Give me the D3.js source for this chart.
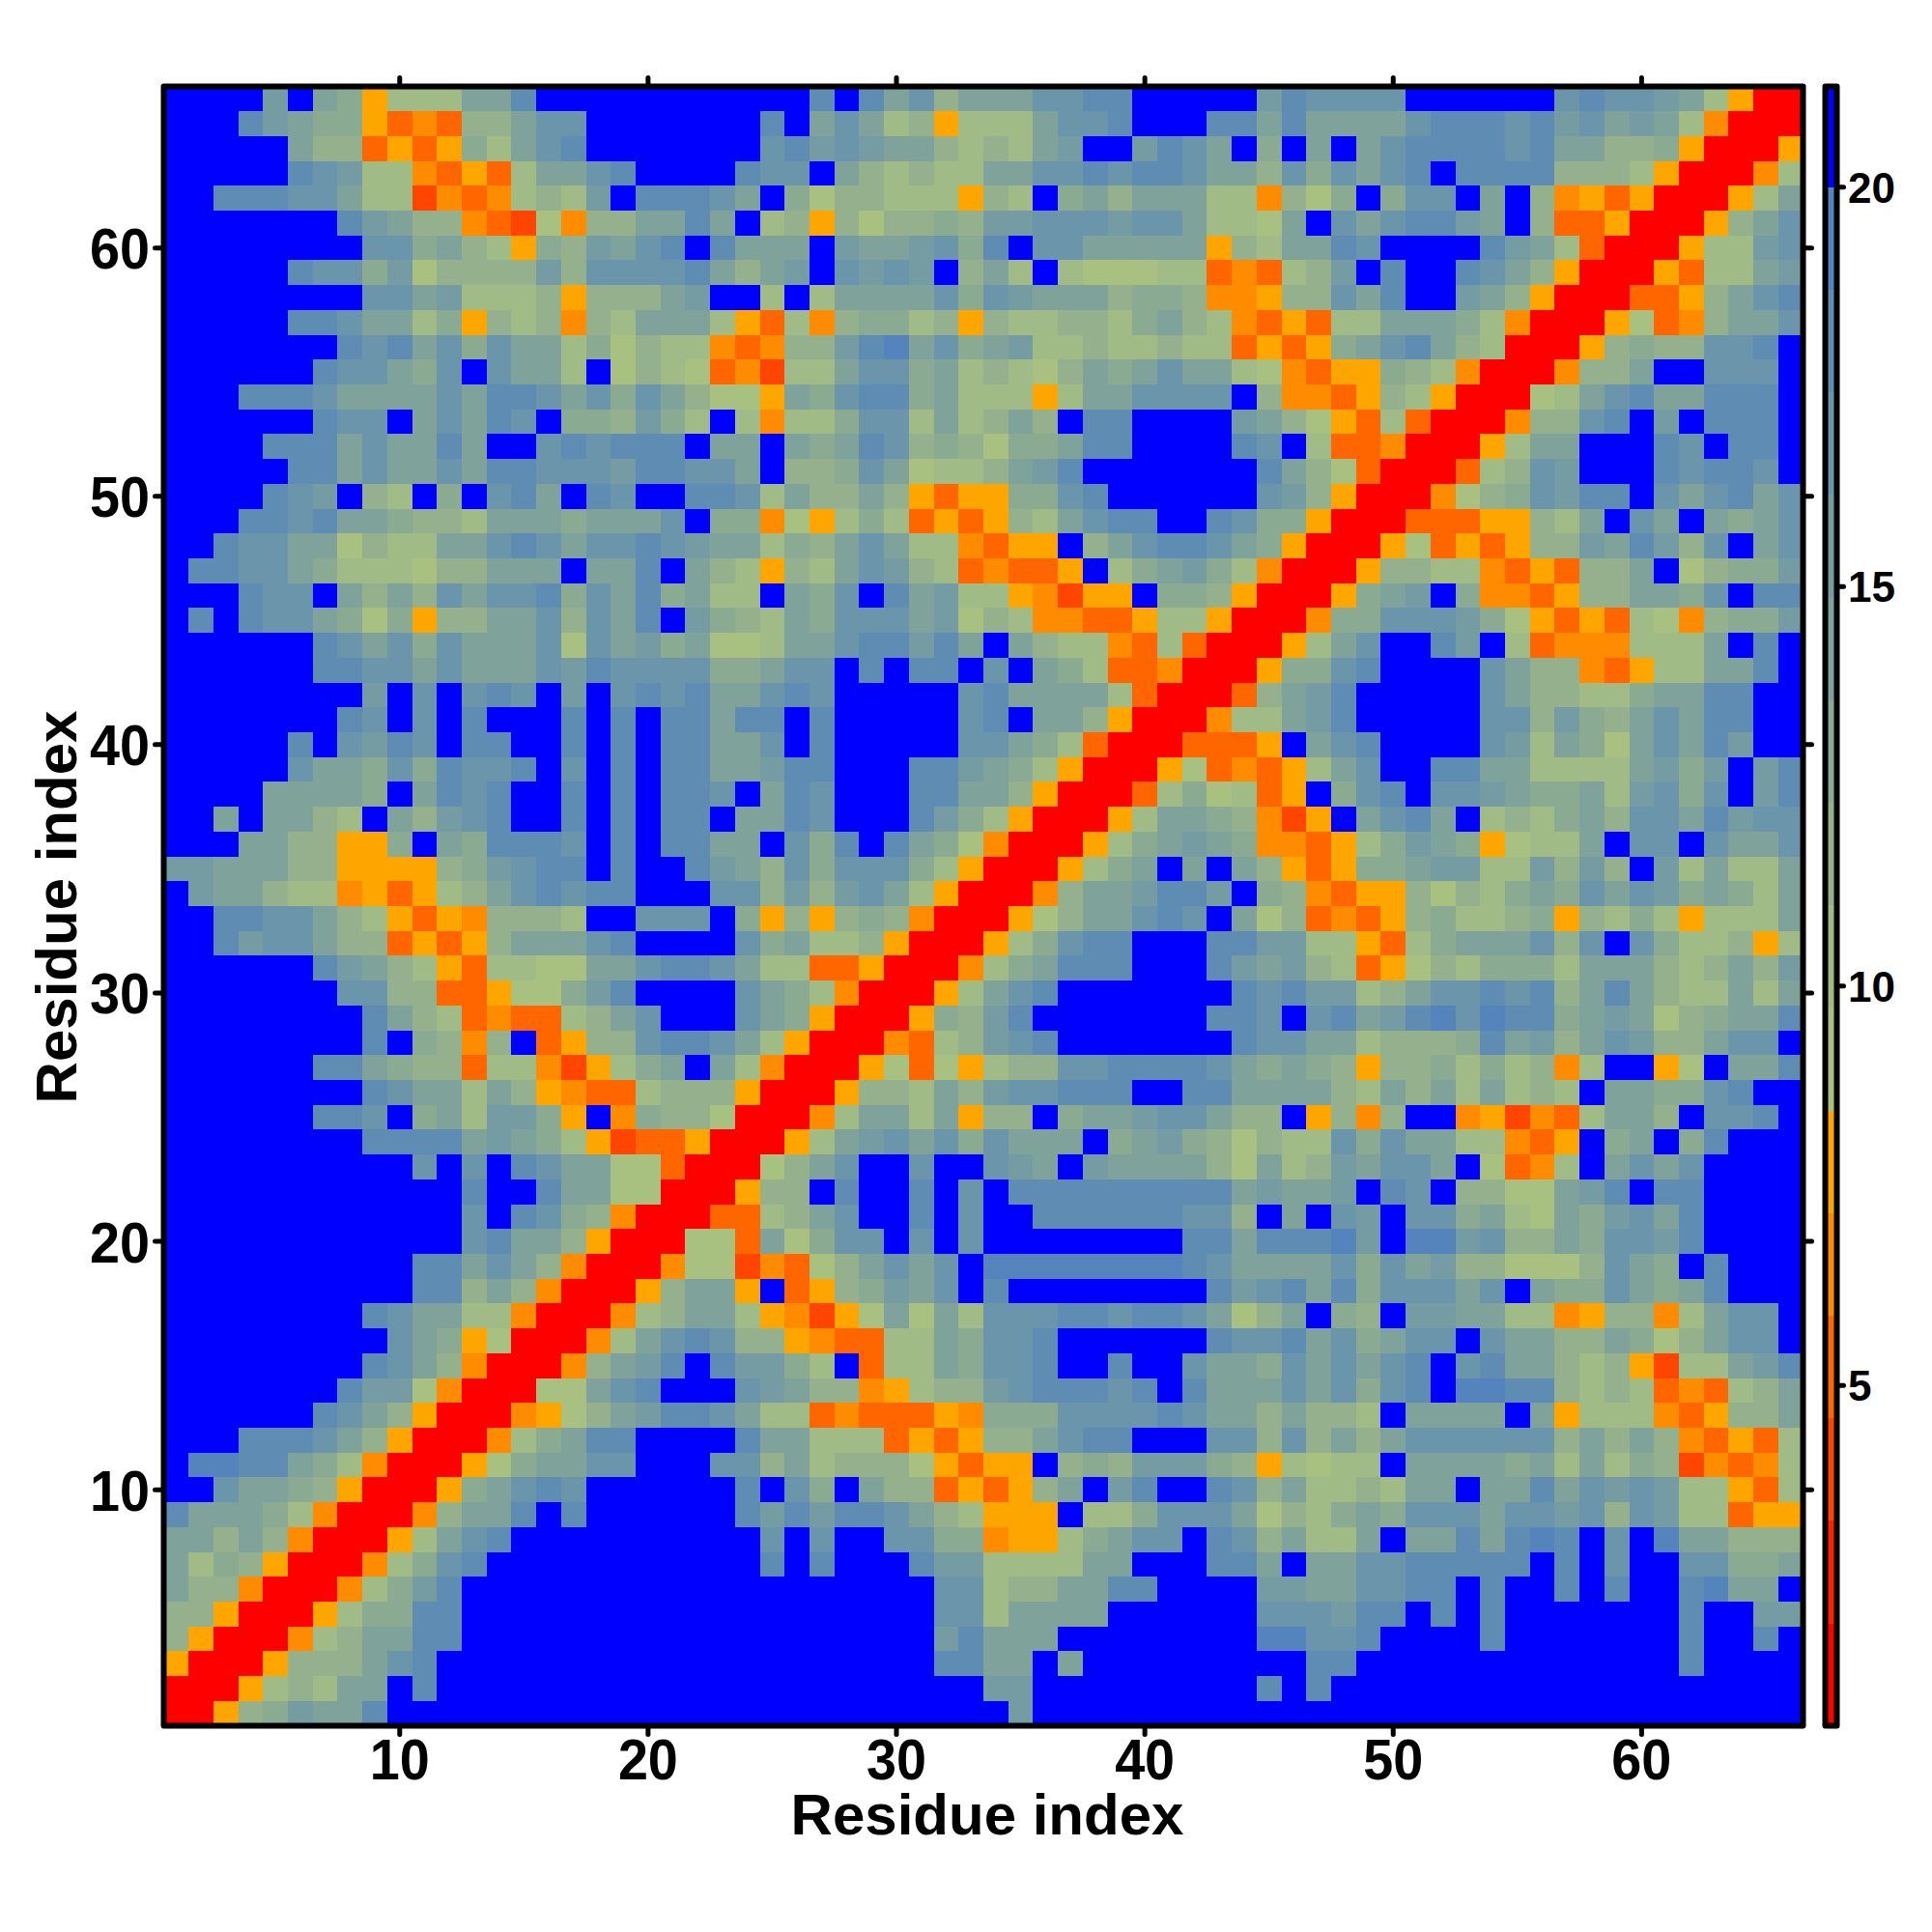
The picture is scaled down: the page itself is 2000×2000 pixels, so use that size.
<!DOCTYPE html>
<html><head><meta charset="utf-8">
<script src="https://cdn.jsdelivr.net/npm/d3@7"></script>
<style>html,body{margin:0;padding:0;background:#fff}svg{display:block}text{font-family:"Liberation Sans",Arial,sans-serif;font-weight:700;fill:#000}</style>
</head><body><div id="chart"></div>
<script>
// Level code per cell, rows 66 (top) to 1 (bottom), ten columns per group.
const matrixRows = [
"BBBBfBedYb bbeehBBBBB BBBBBBhBhe gceeegghhB BBBBfhgggg BBBBBBghgg febYRR",
"BBBhfeddYO MOcceggBBB BBBBhBegeb cYbbbegghB BBhheheeee ghhhghfgef ebMRRR",
"BBBBBeccOY OYdbeghBBB BBBBghfgfe ecbcbefBBf hgeBdBeBeg hhhhgheecc dYRRRY",
"BBBBBhgfbb MOYObeeghB BBBhggBecb cbbeegghgh hgeecgdgeg hBhhhhcccb YRRRMb",
"BBhhhggebb DMOMbcbfBh hhgeBdaccb bbYcbBdece eebbMcadBd ggBeBcMYOY RRRYbe",
"BBBBBBBhfe ccMODaMcce eheBbcYcac cdcffgggfg gebbaeBgeg hhfeBcOOYR RRYceg",
"BBBBBBBBgg decbYdcfeg hBheeeBfee fgdhBggeee eeYcbeehgB BBBhfebORR RYbbfg",
"BBBBBhggdf accccfcggg ghecefBgfg fBcebBbaaa bbOMObcfBh BBhgecYRRR YObbef",
"BBBBBBBBgg efbbbcYccc efBBbBbeee egdgfeeecd dcMMYccgeh BBfecYRRRO OYcegh",
"BBBBBhhgee bdYcbcMcbe eebYObMcdd bcYcbbccbd ecbMOYObbe eedbMRRRYa OMceeg",
"BBBBBBBhgh egdgeebdac bbMOMccfhi egdefbbcbb cbbOYOYdeg hecbRRRYcd ccgghB",
"BBBBBBhgge dgBgeebBac baOMDbbegg debcbacede geebaMOYYd cbMRRRMcce BBgggB",
"BBBhhhgeee egehhgegdg ecaaYedghh debbbYbeeg gggBcMMOYc bYRRRabegh eehhhB",
"BBBBBBhggB egehgBddcf dbBbMbbdgg bebcecBhhB BBBfecaYOb ORRRMccghB fBhhhB",
"BBBBhhhege eheBBghghh hBeeBedehg cdcaddehhB BBBhgBbOOM RRRYbeeBBB hgBhhB",
"BBBBBhhege egehhgggfh hggeBccdge abbcefhBBB BBBBhecaOR RRObcgfBBB hghhgB",
"BBBBhgfBcb BdBgheBhgB Bhhgbeccec YOYYddghBB BBBBgfcYRR RMacdgfhhB gegheg",
"BBBhhgheed ccbeeedeee gBddMaYbdb OYOYcbeghh BBhgddYRRR OOOYYcbeBg eBedeg",
"BBhggeeacb beeghgeggh gfeebdcege bbMOYYBceg hhgedYRRRY aOYOYccfeh fcgBeg",
"Bhhggedbbb acceeeBeeh BecbYcbegf cbOMOOYBbd efdbMRRRYc cbbMOYOcce Bacddf",
"BBBhggBece cgegghdgeh debbBedgBh efbbYMDYYB ddcYRRRYde fBdMMOYcce edgBhh",
"BhBhggedad Ycceegcgeh Bfdcbedggg efacbMMOOY bbYRRRMddg ggfdaYOYOb aMcddf",
"BBBBBBhgeg dgeeegagef deaabeeghh fheBecbbMO bORRRYbegB BhfBbOMMMb bbeBhB",
"BBBBBBhhgg egeeegfhgg ggddeggBhB hhBgBedbOO MRRRYddghB BBBgeccMOY bbeehB",
"BBBBBBBBfB gBghgBfBgh gheeghgBBB BBgheeeebO RRROcefhBB BBBgeccbbd eehhBB",
"BBBBBBBhgB gBhBBBhBhB hhehhBhBBB BBghBeecYR RRMbbefhBB BBBggcfdce gehhBB",
"BBBBBhBgfh gBhhBBhBhB hheegBhBBB BBggedbORR ROOOYBeghB BBBgfbedae gehfBB",
"BBBBBgeedg dhgghBgBhB hheefhhBBB hhfedbYRRR YaOMOYbegB Bhheebbbbe fdfBfh",
"BBBBeeeedB ehghBBhBhB hhgBehgBBB hheecYRRRO bdabOYBdgh Bggfeddebf gdgBfh",
"BBeBeecbBe cfghBBhBhB hhBeehgBBB hfdbYRRRYb eedcMDYBeg heBbcbdecg gehfgg",
"BBBeeccYYd BedhhhgBhB hheeBgdhBh edaMRRRYbd efedMMOYbd fedYabbeBg gBgeeg",
"ffeeeccYYY YcdfghhBhB Bhfecgdggg dbYRRRYbde BeBecYOYdd effbbfcfcB fbebbe",
"BfeecbbMYO YbceghghhB BBggcfcfge bYRRRMceef hhfBdcMOYY cacbdedgeg fdedbe",
"BBhhggecbY OYMcccbBBg ggBdYcYcdc MRRRYaceeg hgBeacOMOY cdbbcdYcbd bYbbbe",
"BBhfggeccO YOYceeeghB BBBgdebbcY RRRYbdghhB BBhhffbbYO bdeeegcgBg dbbcYb",
"BBBBBBhfec bYObbaaeeg hhgebbOOYR RRMbdehhhB BBhfefcbOY acbdddbeee cbcecf",
"BBBBBBBggc cOOYaadfhB BBBgedbMRR RYbeghBBBB BBBhghffbc egghghcehe cbbebe",
"BBBBBBBBhe cbOMOObceg BBBgedYRRR YdcfhBBBBB BBhhgBghef higihhdefe acdeeh",
"BBBBBBBBhB dcMcBOYccg hhgebYRRRM ObcfghBBBB BBBhggeebc ccdhefcegf cceggB",
"BBBBBBhhed ccObbMDYbd eBebMRRRYa OaYbccgghh hhgededcYc cdbdbcMbBB YaBeeh",
"BBBBBBBBhg eebecYMOOb cccYRRRYcc becfgghhhB Bhheeeecbe cebebcbBee ddghBB",
"BBBBBBhhgB debffdYBMd ccaRRRMbee beYccBdeef ggeccBYcMc BBMYDMObee cBgghB",
"BBBBBBBBhh hhefedbYDO OYRRRYbefg egdgeeeBde fdcacbbgdg eebbMOYBde BdhBBB",
"BBBBBBBBBB gBgBhgeeaa ORRRacegBB gBBgfeBfee eecaebcfeg geBaOMbBeg egBBBB",
"BBBBBBBBBB BBhBBheeaa RRRYccBhBB hBgBhhhhhh hhhefeefBh gBccaaefhB hhBBBB",
"BBBBBBBBBB BBgBhgdcMR RROObcegBB hBgBBhhhhh hggcBeBgfB ggdebaedfg ehBBBB",
"BBBBBBBBBB BBgheecYRR RaaOeadggB gBgBBBBBBB BhhehhhifB iifgccedgg fhBBBB",
"BBBBBBBBBB hhegecMRRR MaaDMOaceg egBiiiiiii ihgeeeegdg efccaaacge dBhBBB",
"BBBBBBBBBB hhcecMRRRY ceeYBOYcdf egBhBBBBBB BBhfghehdg ggegBeddge dehBBB",
"BBBBBBBBhg eebbMRRRMb ceebYMDYae aebggghhgh hgeaceBdcB ffeebbMYcc MbeggB",
"BBBBBBBBBg edYaRRRMbe ghgccYMOOb bedgghBBBB BBhgghegde ggBgeecced aceggB",
"BBBBBBBBhg ecMRRRMcef hBhffdbBOb bedgghBBhB Bgeedgegeg hBgheecbcY Dbbefh",
"BBBBBBBhff aMRRRaaegh BBBgfeccMY bccfghhhgh Bheeegegdg hBiihhcbcb OMObce",
"BBBBBBhgec YRRRMYacef hhgebbOMOO OYMdddgggg hgeececcbB eeeeBeYbbb MOYcce",
"BBBhhhgecY RRRMbdehhB BBBheebbbO YOYcceghhB BBggcgcece ggggggcece cMOYOb",
"BiihhedbMR RRYadeeggB BBggcebccc aYOYYBcdcf ffdcYbabbB eeeedebebd cDMOMb",
"BBgeedcYRR RYdeghgBBB BBBhBgdBec cOYOYceBfh BBhgcebbcb eeBeehegfg fbbYOb",
"heeedbMRRR MceehBhBBB BBBhfhfhhg ecbYYYBbbd gggeacbded gggeggfgcg fbbOYY",
"eececMRRRY beghBBBBBB BBBBgBgBBg gddMYYbdeg gBhgcebbeB eehehihBgB ieeccc",
"ebdcYRRRMb dghBBBBBBB BBBBhBhBBB hffbbbbeeB BBhheBeegg hhhhhBhBgB Bggdde",
"eccMRRRMbd fhBBBBBBBB BBBBBBBBBB Bggbcceehh BBBBffeegg hhBhBBhBhB BhieeB",
"ccYRRRYbdd hhBBBBBBBB BBBBBBBBBB BggbeeeeBB BBBBgggfhh BhBhBBBBBB BhBBff",
"cYRRRMbcee hhBBBBBBBB BBBBBBBBBB BfheeeBBBB BBBBiigghB BBBhBBBBBB BhBBhB",
"YRRRYccceg hBBBBBBBBB BBBBBBBBBB BhheeBeBBB BBBBBBhhBB BBBBBBBBBB BhBBBB",
"RRRYbcbeeB hBBBBBBBBB BBBBBBBBBB BBBffBBBBB BBBBhBhBBB BBBBBBBBBB BBBBBB",
"RRYcdfeehB BBBBBBBBBB BBBBBBBBBB BBBBfBBBBB BBBBBBBBBB BBBBBBBBBB BBBBBB"
];
const levelCodes = ["R","r","D","O","M","Y","a","b","c","d","e","f","g","h","i","B"];
const levelValues = [1.4,2.7,3.95,5.2,6.5,7.8,9.1,10.4,11.7,12.9,14.2,15.5,16.8,18.1,19.4,20.6];
const levelBreaks = [0.74,2.02,3.31,4.59,5.87,7.16,8.44,9.73,11.01,12.3,13.58,14.87,16.15,17.43,18.72,20,21.26];
const levelColors = ["#ff0000","#ff2000","#ff4500","#ff6600","#ff8c00","#ffa500","#a8c080","#a0bb86","#94b08c","#8aaa92","#7fa29a","#759ca2","#6b95aa","#5f8cb3","#5583bb","#0000ff"];
const axisTicks = [10,20,30,40,50,60];
const barTicks = [5,10,15,20];
const axisTitle = "Residue index";

const cells = [];
matrixRows.forEach((s, k) => {
  const r = s.replace(/ /g, "");
  if (r.length !== 66) throw new Error("row " + (66 - k) + " has length " + r.length);
  for (let c = 0; c < 66; c++) {
    const i = levelCodes.indexOf(r[c]);
    if (i < 0) throw new Error("bad code " + r[c]);
    cells.push({x: c + 1, y: 66 - k, v: levelValues[i]});
  }
});

const svg = d3.select("#chart").append("svg").attr("width", 2000).attr("height", 2000);
const x = d3.scaleLinear().domain([0.5, 66.5]).range([169.5, 1866.5]);
const y = d3.scaleLinear().domain([0.5, 66.5]).range([1786.5, 89.5]);
const color = d3.scaleThreshold().domain(levelBreaks.slice(1, -1)).range(levelColors);
const barY = d3.scaleLinear().domain([levelBreaks[0], levelBreaks[16]]).range([1786.5, 89.5]);

svg.append("g").attr("shape-rendering", "crispEdges").selectAll("rect").data(cells).join("rect")
  .attr("x", d => x(d.x - 0.5)).attr("y", d => y(d.y + 0.5))
  .attr("width", x(1.5) - x(0.5) + 0.4).attr("height", y(0.5) - y(1.5) + 0.4)
  .attr("fill", d => color(d.v));

function ticks(sel, vals, fn) {
  sel.selectAll("line").data(vals).join("line").each(function(d){ d3.select(this).attr("x1", fn(d)[0]).attr("y1", fn(d)[1]).attr("x2", fn(d)[2]).attr("y2", fn(d)[3]); })
    .attr("stroke", "#000").attr("stroke-width", 5).attr("stroke-linecap", "round");
}
const T = 9;
ticks(svg.append("g"), axisTicks, d => [x(d), 1786.5, x(d), 1786.5 + T]);
ticks(svg.append("g"), axisTicks, d => [x(d), 89.5, x(d), 89.5 - T]);
ticks(svg.append("g"), axisTicks, d => [169.5, y(d), 169.5 - T, y(d)]);
ticks(svg.append("g"), axisTicks, d => [1866.5, y(d), 1866.5 + T, y(d)]);

svg.append("rect").attr("x", 169.5).attr("y", 89.5).attr("width", 1697).attr("height", 1697)
  .attr("fill", "none").attr("stroke", "#000").attr("stroke-width", 6).attr("stroke-linejoin", "round");

const tickFont = 60;
const tickWidth = d => String(d).length * 31;
svg.append("g").selectAll("text").data(axisTicks).join("text")
  .attr("x", d => x(d)).attr("y", 1842).attr("text-anchor", "middle").attr("font-size", tickFont)
  .attr("textLength", tickWidth).attr("lengthAdjust", "spacingAndGlyphs").text(d => d);
svg.append("g").selectAll("text").data(axisTicks).join("text")
  .attr("x", 155).attr("y", d => y(d) + 21.5).attr("text-anchor", "end").attr("font-size", tickFont)
  .attr("textLength", tickWidth).attr("lengthAdjust", "spacingAndGlyphs").text(d => d);
svg.append("text").attr("x", 1022).attr("y", 1899).attr("text-anchor", "middle").attr("font-size", 60).text(axisTitle);
svg.append("text").attr("transform", "translate(79,939) rotate(-90)").attr("text-anchor", "middle").attr("font-size", 60).text(axisTitle);

// colour bar
const bx0 = 1889.5, bx1 = 1901.5;
svg.append("g").attr("shape-rendering", "crispEdges").selectAll("rect").data(levelColors).join("rect")
  .attr("x", bx0).attr("width", bx1 - bx0)
  .attr("y", (c, i) => barY(levelBreaks[i + 1])).attr("height", (c, i) => barY(levelBreaks[i]) - barY(levelBreaks[i + 1]))
  .attr("fill", c => c);
ticks(svg.append("g"), barTicks, d => [bx1, barY(d), bx1 + 7, barY(d)]);
svg.append("rect").attr("x", bx0).attr("y", 89.5).attr("width", bx1 - bx0).attr("height", 1697)
  .attr("fill", "none").attr("stroke", "#000").attr("stroke-width", 6).attr("stroke-linejoin", "round");
svg.append("g").selectAll("text").data(barTicks).join("text")
  .attr("x", 1913).attr("y", d => barY(d) + 16).attr("font-size", 44).text(d => d);
</script></body></html>
